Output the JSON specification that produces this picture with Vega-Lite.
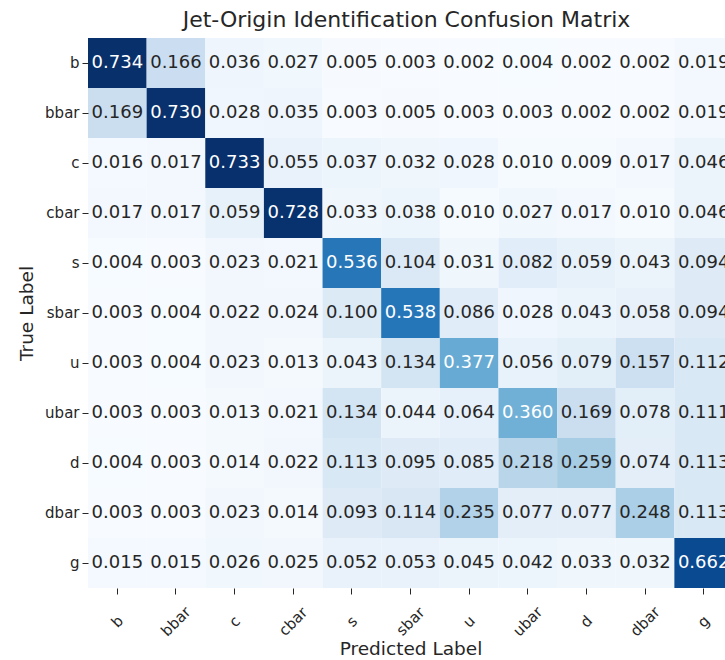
{
  "$schema": "https://vega.github.io/schema/vega-lite/v6.json",
  "autosize": {"type": "none"},
  "padding": {"left": 88, "top": 38, "right": 0, "bottom": 72},
  "width": 637,
  "height": 550,
  "background": "white",
  "config": {
    "font": "DejaVu Sans",
    "view": {"stroke": null},
    "axis": {"grid": false, "domain": false, "labelFont": "DejaVu Sans", "titleFont": "DejaVu Sans", "labelColor": "#262626", "titleColor": "#262626", "tickColor": "#262626", "titleFontWeight": "normal"}
  },
  "title": {"text": "Jet-Origin Identification Confusion Matrix", "font": "DejaVu Sans", "fontSize": 22, "fontWeight": "normal", "color": "#262626", "anchor": "middle", "offset": 6},
  "data": {"values": [
    {"t":"b","p":"b","v":0.734},{"t":"b","p":"bbar","v":0.166},{"t":"b","p":"c","v":0.036},{"t":"b","p":"cbar","v":0.027},{"t":"b","p":"s","v":0.005},{"t":"b","p":"sbar","v":0.003},{"t":"b","p":"u","v":0.002},{"t":"b","p":"ubar","v":0.004},{"t":"b","p":"d","v":0.002},{"t":"b","p":"dbar","v":0.002},{"t":"b","p":"g","v":0.019},
    {"t":"bbar","p":"b","v":0.169},{"t":"bbar","p":"bbar","v":0.730},{"t":"bbar","p":"c","v":0.028},{"t":"bbar","p":"cbar","v":0.035},{"t":"bbar","p":"s","v":0.003},{"t":"bbar","p":"sbar","v":0.005},{"t":"bbar","p":"u","v":0.003},{"t":"bbar","p":"ubar","v":0.003},{"t":"bbar","p":"d","v":0.002},{"t":"bbar","p":"dbar","v":0.002},{"t":"bbar","p":"g","v":0.019},
    {"t":"c","p":"b","v":0.016},{"t":"c","p":"bbar","v":0.017},{"t":"c","p":"c","v":0.733},{"t":"c","p":"cbar","v":0.055},{"t":"c","p":"s","v":0.037},{"t":"c","p":"sbar","v":0.032},{"t":"c","p":"u","v":0.028},{"t":"c","p":"ubar","v":0.010},{"t":"c","p":"d","v":0.009},{"t":"c","p":"dbar","v":0.017},{"t":"c","p":"g","v":0.046},
    {"t":"cbar","p":"b","v":0.017},{"t":"cbar","p":"bbar","v":0.017},{"t":"cbar","p":"c","v":0.059},{"t":"cbar","p":"cbar","v":0.728},{"t":"cbar","p":"s","v":0.033},{"t":"cbar","p":"sbar","v":0.038},{"t":"cbar","p":"u","v":0.010},{"t":"cbar","p":"ubar","v":0.027},{"t":"cbar","p":"d","v":0.017},{"t":"cbar","p":"dbar","v":0.010},{"t":"cbar","p":"g","v":0.046},
    {"t":"s","p":"b","v":0.004},{"t":"s","p":"bbar","v":0.003},{"t":"s","p":"c","v":0.023},{"t":"s","p":"cbar","v":0.021},{"t":"s","p":"s","v":0.536},{"t":"s","p":"sbar","v":0.104},{"t":"s","p":"u","v":0.031},{"t":"s","p":"ubar","v":0.082},{"t":"s","p":"d","v":0.059},{"t":"s","p":"dbar","v":0.043},{"t":"s","p":"g","v":0.094},
    {"t":"sbar","p":"b","v":0.003},{"t":"sbar","p":"bbar","v":0.004},{"t":"sbar","p":"c","v":0.022},{"t":"sbar","p":"cbar","v":0.024},{"t":"sbar","p":"s","v":0.100},{"t":"sbar","p":"sbar","v":0.538},{"t":"sbar","p":"u","v":0.086},{"t":"sbar","p":"ubar","v":0.028},{"t":"sbar","p":"d","v":0.043},{"t":"sbar","p":"dbar","v":0.058},{"t":"sbar","p":"g","v":0.094},
    {"t":"u","p":"b","v":0.003},{"t":"u","p":"bbar","v":0.004},{"t":"u","p":"c","v":0.023},{"t":"u","p":"cbar","v":0.013},{"t":"u","p":"s","v":0.043},{"t":"u","p":"sbar","v":0.134},{"t":"u","p":"u","v":0.377},{"t":"u","p":"ubar","v":0.056},{"t":"u","p":"d","v":0.079},{"t":"u","p":"dbar","v":0.157},{"t":"u","p":"g","v":0.112},
    {"t":"ubar","p":"b","v":0.003},{"t":"ubar","p":"bbar","v":0.003},{"t":"ubar","p":"c","v":0.013},{"t":"ubar","p":"cbar","v":0.021},{"t":"ubar","p":"s","v":0.134},{"t":"ubar","p":"sbar","v":0.044},{"t":"ubar","p":"u","v":0.064},{"t":"ubar","p":"ubar","v":0.360},{"t":"ubar","p":"d","v":0.169},{"t":"ubar","p":"dbar","v":0.078},{"t":"ubar","p":"g","v":0.111},
    {"t":"d","p":"b","v":0.004},{"t":"d","p":"bbar","v":0.003},{"t":"d","p":"c","v":0.014},{"t":"d","p":"cbar","v":0.022},{"t":"d","p":"s","v":0.113},{"t":"d","p":"sbar","v":0.095},{"t":"d","p":"u","v":0.085},{"t":"d","p":"ubar","v":0.218},{"t":"d","p":"d","v":0.259},{"t":"d","p":"dbar","v":0.074},{"t":"d","p":"g","v":0.113},
    {"t":"dbar","p":"b","v":0.003},{"t":"dbar","p":"bbar","v":0.003},{"t":"dbar","p":"c","v":0.023},{"t":"dbar","p":"cbar","v":0.014},{"t":"dbar","p":"s","v":0.093},{"t":"dbar","p":"sbar","v":0.114},{"t":"dbar","p":"u","v":0.235},{"t":"dbar","p":"ubar","v":0.077},{"t":"dbar","p":"d","v":0.077},{"t":"dbar","p":"dbar","v":0.248},{"t":"dbar","p":"g","v":0.113},
    {"t":"g","p":"b","v":0.015},{"t":"g","p":"bbar","v":0.015},{"t":"g","p":"c","v":0.026},{"t":"g","p":"cbar","v":0.025},{"t":"g","p":"s","v":0.052},{"t":"g","p":"sbar","v":0.053},{"t":"g","p":"u","v":0.045},{"t":"g","p":"ubar","v":0.042},{"t":"g","p":"d","v":0.033},{"t":"g","p":"dbar","v":0.032},{"t":"g","p":"g","v":0.662}
  ]},
  "encoding": {
    "x": {"field": "p", "type": "nominal", "sort": ["b","bbar","c","cbar","s","sbar","u","ubar","d","dbar","g"],
      "scale": {"range": [0, 645], "paddingInner": 0, "paddingOuter": 0},
      "axis": {"title": "Predicted Label", "titleFontSize": 18.5, "labelFontSize": 15, "labelAngle": -45, "labelAlign": "center", "labelBaseline": "middle", "labelPadding": 27, "tickSize": 6, "titlePadding": 1}},
    "y": {"field": "t", "type": "nominal", "sort": ["b","bbar","c","cbar","s","sbar","u","ubar","d","dbar","g"],
      "scale": {"paddingInner": 0, "paddingOuter": 0},
      "axis": {"title": "True Label", "titleFontSize": 18.5, "labelFontSize": 15, "tickSize": 6, "labelPadding": 3, "titlePadding": 8}}
  },
  "layer": [
    {"mark": {"type": "rect", "clip": true},
      "encoding": {"color": {"field": "v", "type": "quantitative", "legend": null,
        "scale": {"type": "linear", "domain": [0.002, 0.0935, 0.185, 0.2765, 0.368, 0.4595, 0.551, 0.6425, 0.734],
          "range": ["#f7fbff", "#deebf7", "#c6dbef", "#9ecae1", "#6baed6", "#4292c6", "#2171b5", "#08519c", "#08306b"]}}}},
    {"mark": {"type": "text", "clip": true, "fontSize": 18, "font": "DejaVu Sans"},
      "encoding": {"text": {"field": "v", "type": "quantitative", "format": ".3f"},
        "color": {"condition": {"test": "datum.v > 0.3", "value": "#ffffff"}, "value": "#262626"}}}
  ]
}
